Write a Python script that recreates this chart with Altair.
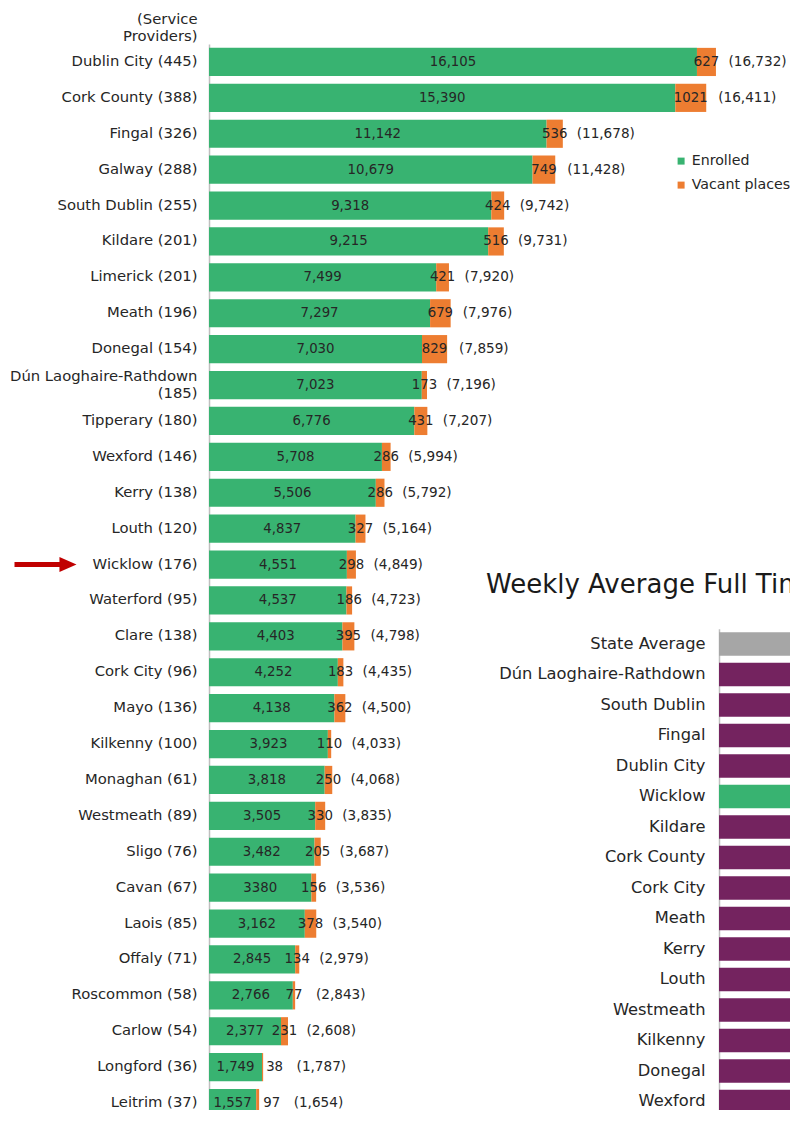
import altair as alt
import pandas as pd

# ---------------- data ----------------
counties = ["Dublin City", "Cork County", "Fingal", "Galway", "South Dublin", "Kildare",
            "Limerick", "Meath", "Donegal", "Dún Laoghaire-Rathdown", "Tipperary", "Wexford",
            "Kerry", "Louth", "Wicklow", "Waterford", "Clare", "Cork City", "Mayo", "Kilkenny",
            "Monaghan", "Westmeath", "Sligo", "Cavan", "Laois", "Offaly", "Roscommon", "Carlow",
            "Longford", "Leitrim"]
providers = [445, 388, 326, 288, 255, 201, 201, 196, 154, 185, 180, 146, 138, 120, 176, 95,
             138, 96, 136, 100, 61, 89, 76, 67, 85, 71, 58, 54, 36, 37]
enrolled = [16105, 15390, 11142, 10679, 9318, 9215, 7499, 7297, 7030, 7023, 6776, 5708, 5506,
            4837, 4551, 4537, 4403, 4252, 4138, 3923, 3818, 3505, 3482, 3380, 3162, 2845, 2766,
            2377, 1749, 1557]
vacant = [627, 1021, 536, 749, 424, 516, 421, 679, 829, 173, 431, 286, 286, 327, 298, 186, 395,
          183, 362, 110, 250, 330, 205, 156, 378, 134, 77, 231, 38, 97]
unformatted = ["Cavan"]  # label shown without thousands separator in the source

highlight = "Wicklow"
fee_areas = ["State Average", "Dún Laoghaire-Rathdown", "South Dublin", "Fingal", "Dublin City",
             "Wicklow", "Kildare", "Cork County", "Cork City", "Meath", "Kerry", "Louth",
             "Westmeath", "Kilkenny", "Donegal", "Wexford"]
# bar ends are outside the visible crop; values are estimates
fee_values = [185, 254, 235, 224, 221, 214, 206, 190, 188, 186, 178, 176, 175, 173, 171, 170]
fee_title = "Weekly Average Full Time Fees"

# ---------------- styles ----------------
GREEN = "#38B371"
ORANGE = "#ED7D31"
PURPLE = "#74235F"
GREY = "#A6A6A6"
RED = "#C00000"
INK = "#262626"
AXIS = "#BFBFBF"
FONT = "DejaVu Sans"

labels = [f"{c} ({p})" for c, p in zip(counties, providers)]
enr_txt = [str(v) if c in unformatted else f"{v:,}" for c, v in zip(counties, enrolled)]
df = pd.DataFrame({"label": labels, "enrolled": enrolled, "vacant": vacant, "enr_txt": enr_txt})

STEP_L = 35.9
xs = alt.Scale(domain=[0, 19440], range=[0, 589], nice=False, zero=True)
ys = alt.Scale(range=[0, STEP_L * len(labels)], paddingInner=0.215, paddingOuter=0.1075)

y_left = alt.Y(
    "label:N", sort=labels, scale=ys,
    axis=alt.Axis(
        title=["(Service", "Providers)"], titleAngle=0, titleAlign="right",
        titleBaseline="alphabetic", titleX=-12, titleY=-21, titleFontSize=14.8,
        titleFontWeight="normal", titleColor=INK, titleLineHeight=17,
        labelFontSize=14.8, labelColor=INK, labelPadding=12, labelLimit=400,
        labelLineHeight=17, ticks=False, domainColor=AXIS, domainWidth=1.5,
        labelExpr="length(datum.label) > 24 ? [slice(datum.label, 0, indexof(datum.label, ' (')), "
                  "slice(datum.label, indexof(datum.label, ' (') + 1)] : datum.label",
        labelOffset=alt.condition("length(datum.label) > 24", alt.value(-8.5), alt.value(0)),
    ),
)

# label placement: vacant label kept clear of the enrolled label on short bars,
# total label kept clear of the vacant label
base = alt.Chart(df).transform_calculate(
    total="datum.enrolled + datum.vacant"
).transform_calculate(
    mid_e="datum.enrolled / 2",
    mid_v="max(datum.enrolled + datum.vacant / 2, datum.enrolled / 2 + 1290)",
    tot_txt="'(' + format(datum.total, ',') + ')'",
    vac_txt="'' + datum.vacant",
).transform_calculate(
    tot_x="max(datum.total, datum.mid_v + 330)"
)

bars = base.transform_fold(["enrolled", "vacant"]).transform_calculate(
    series="datum.key == 'enrolled' ? 'Enrolled' : 'Vacant places'",
    ord="datum.key == 'enrolled' ? 0 : 1",
).mark_bar().encode(
    x=alt.X("value:Q", stack="zero", scale=xs, axis=None),
    y=y_left,
    color=alt.Color(
        "series:N",
        scale=alt.Scale(domain=["Enrolled", "Vacant places"], range=[GREEN, ORANGE]),
        legend=alt.Legend(title=None, orient="none", legendX=465, legendY=110,
                          direction="vertical", symbolType="square", symbolSize=49,
                          symbolStrokeWidth=0, labelFontSize=14.2, labelColor=INK,
                          rowPadding=9, labelOffset=3.5, padding=0),
    ),
    order=alt.Order("ord:Q"),
)

t_enr = base.mark_text(fontSize=13.3, color=INK, baseline="middle").encode(
    x=alt.X("mid_e:Q", scale=xs, axis=None), y=y_left, text="enr_txt:N")
t_vac = base.mark_text(fontSize=13.3, color=INK, baseline="middle").encode(
    x=alt.X("mid_v:Q", scale=xs, axis=None), y=y_left, text="vac_txt:N")
t_tot = base.mark_text(fontSize=13.6, color=INK, baseline="middle", align="left", dx=12).encode(
    x=alt.X("tot_x:Q", scale=xs, axis=None), y=y_left, text="tot_txt:N")

ARROW = "M-1,-0.08 L0.45,-0.08 L0.45,-0.24 L1,0 L0.45,0.24 L0.45,0.08 L-1,0.08 Z"
arrow = alt.Chart(pd.DataFrame({"label": [l for l in labels if l.startswith(highlight)]})).mark_point(
    shape=ARROW, filled=True, color=RED, size=3844, opacity=1, strokeWidth=0
).encode(x=alt.value(-163.5), y=y_left)

left = alt.layer(bars, t_enr, t_vac, t_tot, arrow)

# ---------------- right-hand (partly visible) chart ----------------
fee_col = [GREY if a == "State Average" else GREEN if a == highlight else PURPLE for a in fee_areas]
rdf = pd.DataFrame({"area": fee_areas, "fee": fee_values, "col": fee_col})

STEP_R = 30.5
r_top = 584.7
r_bars = alt.Chart(rdf).mark_bar(clip=True).encode(
    x=alt.X("fee:Q", scale=alt.Scale(domain=[0, 300], range=[510, 1310], nice=False), axis=None),
    y=alt.Y("area:N", sort=fee_areas,
            scale=alt.Scale(range=[r_top, r_top + STEP_R * len(fee_areas)],
                            paddingInner=0.23, paddingOuter=0.115),
            axis=alt.Axis(orient="left", offset=-510, title=None, labelFontSize=16.3,
                          labelColor=INK, labelPadding=14, ticks=False, domainColor=AXIS,
                          domainWidth=1.5, labelLimit=400)),
    color=alt.Color("col:N", scale=None),
)
r_title = alt.Chart(pd.DataFrame({"t": [fee_title]})).mark_text(
    align="left", baseline="alphabetic", fontSize=26, color="#1a1a1a", clip=True
).encode(x=alt.value(277), y=alt.value(549), text="t:N")

right = alt.layer(r_bars, r_title)

chart = alt.layer(left, right).resolve_scale(
    x="independent", y="independent", color="independent"
).properties(
    width=581, height=1066,
    autosize=alt.AutoSizeParams(type="none"),
    padding={"left": 201, "top": 36, "right": 0, "bottom": 0},
).configure(font=FONT).configure_view(stroke=None)

chart.save("out.html", embed_options={"renderer": "svg", "actions": False})
